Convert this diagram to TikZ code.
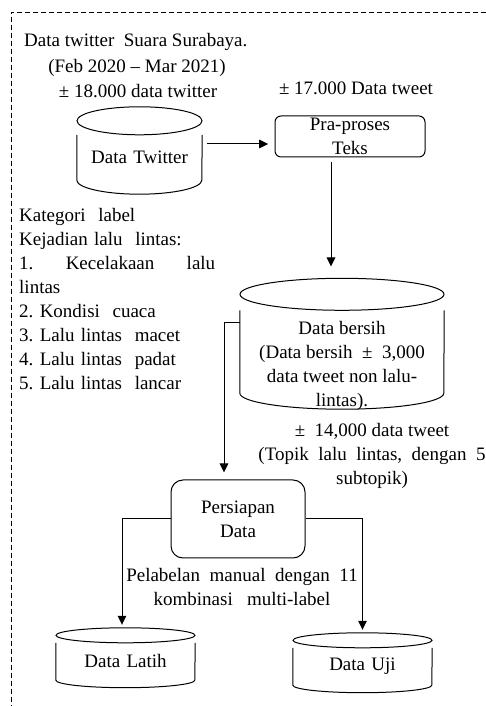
\documentclass[tikz,border=0pt]{standalone}
\usepackage{fontspec}
\setmainfont{Liberation Serif}
\usepackage{tikz}
\usetikzlibrary{
  arrows.meta,
  positioning}
\frenchspacing

\newcommand\dbcyl[3]{%
  \draw[dbline] ([yshift=#3]#1.north) ellipse[x radius=#2, y radius=#3];
  \draw[dbline] (#1.north west) -- (#1.south west)
    arc[start angle=180, end angle=360, x radius=#2, y radius=#3] -- (#1.north east);
  \coordinate (#1-top) at ([yshift=2*#3]#1.north);
}

\begin{document}
\begin{tikzpicture}[
  x=1pt, y=1pt,
  every node/.style={font=\fontsize{19}{24}\selectfont, inner sep=0pt},
  dbline/.style={line width=1pt},
  dbbody/.style={minimum width=#1, text width=#1, align=center},
  procbox/.style={draw, line width=1pt, align=center},
  arr/.style={line width=1pt, -{Triangle[length=9pt, width=8.5pt]}},
  border/.style={line width=0.8pt, dash pattern=on 5pt off 3pt},
]
\useasboundingbox (0,0) rectangle (486,706);
\draw[border] (486,694) -- (11,694) -- (11,0);

% sumber data
\node[anchor=west] (src) at (24,664) {Data twitter~ Suara Surabaya.};
\node (period) at (137,638) {(Feb 2020 -- Mar 2021)};
\node (count18) at (138,615) {± 18.000 data twitter};
\node (count17) at (356,618) {± 17.000 Data tweet};

\node[dbbody=125, minimum height=45] (twitter) at (139.5,548.5) {Data Twitter};
\dbcyl{twitter}{62.5}{14}
\node[procbox, rounded corners=6, minimum width=150, minimum height=41] (praproses) at (350,569.5) {Pra-proses\\Teks};

\node[anchor=north west, text width=196, align=left] (kategori) at (19,498)
  {Kategori~ label\\Kejadian lalu~ lintas:\\1.\hfill Kecelakaan\hfill lalu\\lintas\\
   2. Kondisi~ cuaca\\3. Lalu lintas~ macet\\4. Lalu lintas~ padat\\5. Lalu lintas~ lancar};

\node[dbbody=204, minimum height=82.5] (bersih) at (342,354.25) {};
\dbcyl{bersih}{102}{16}
\node[align=center] (bersihtxt) at (342,340)
  {Data bersih\\(Data bersih~ ±~ 3,000\\data tweet non lalu-\\lintas).};

\node[align=center] (topik) at (372,250)
  {±~ 14,000 data tweet\\(Topik~ lalu~ lintas,~ dengan~ 5\\subtopik)};

\node[procbox, rounded corners=12, minimum width=134, minimum height=78] (persiapan) at (238,187) {Persiapan\\Data};

\node[align=center] (pelabelan) at (242,118.5)
  {Pelabelan~ manual~ dengan~ 11\\kombinasi~~ multi-label};

\node[dbbody=139, minimum height=37] (latih) at (125.5,44.5) {Data Latih};
\dbcyl{latih}{69.5}{7.5}
\node[dbbody=139, minimum height=37] (uji) at (362.5,39.5) {Data Uji};
\dbcyl{uji}{69.5}{7.5}

\draw[arr] ([xshift=5pt,yshift=13.5pt]twitter.east) -- ++(61,0);
\draw[arr] ([xshift=-19pt,yshift=-5pt]praproses.south) -- ++(0,-104);
\draw[arr] ([yshift=29pt]bersih.west) -| ([xshift=-14pt,yshift=7pt]persiapan.north);
\draw[arr] (persiapan.west) -| ([xshift=-3.5pt,yshift=3pt]latih-top);
\draw[arr] (persiapan.east) -| ([yshift=3pt]uji-top);
\end{tikzpicture}
\end{document}
